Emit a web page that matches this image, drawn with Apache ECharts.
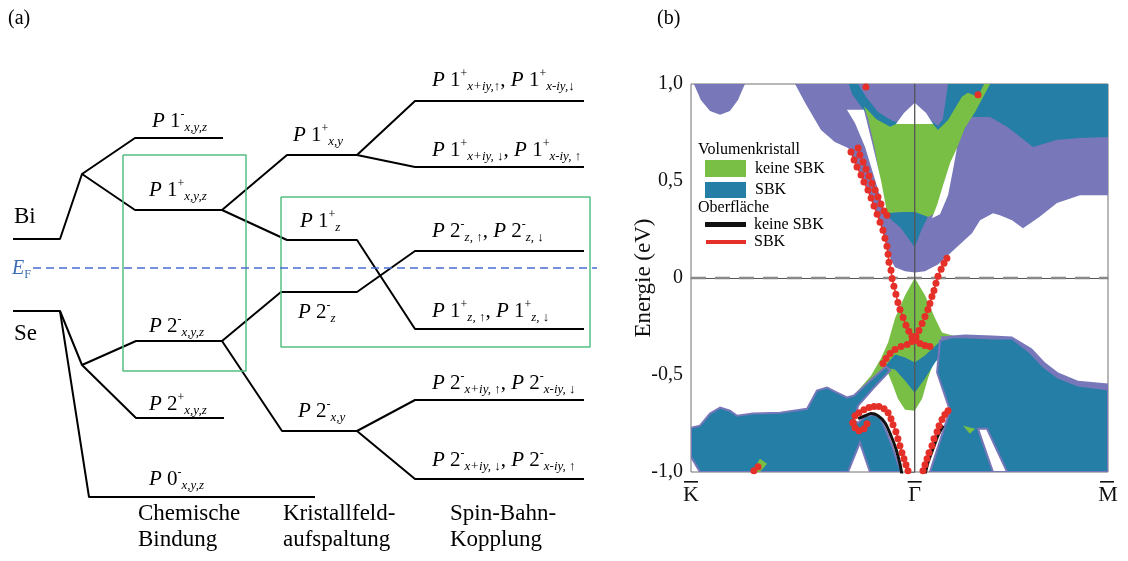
<!DOCTYPE html>
<html>
<head>
<meta charset="utf-8">
<script src="https://cdn.jsdelivr.net/npm/echarts@6.0.0/dist/echarts.min.js"></script>
<style>
  html, body { margin: 0; padding: 0; background: #fff; }
  #chart { width: 1128px; height: 561px; }
</style>
</head>
<body>
<div id="chart"></div>
<script>
// ---- (a) Energieniveau-Schema: Stufe (x) gegen Energie relativ zu E_F (willk. Einheiten) ----
const biUpper = [[0.13, 0.29], [0.60, 0.29], [0.82, 0.94], [1.35, 1.30], [2.23, 1.30]];
const biLower = [[0.82, 0.94], [1.35, 0.58], [2.22, 0.58]];
const p1xyzToXy = [[2.22, 0.58], [2.87, 1.13], [3.57, 1.13]];
const p1xyUp = [[3.57, 1.13], [4.15, 1.67], [5.84, 1.67]];
const p1xyDown = [[3.57, 1.13], [4.15, 1.01], [5.84, 1.01]];
const p1xyzToZ = [[2.22, 0.58], [2.87, 0.28], [3.57, 0.28], [4.15, -0.61], [5.84, -0.61]];
const seUpper = [[0.13, -0.43], [0.60, -0.43], [0.82, -0.97], [1.36, -0.73], [2.22, -0.73]];
const seLower = [[0.82, -0.97], [1.36, -1.50], [2.24, -1.50]];
const seCore = [[0.60, -0.43], [0.89, -2.29], [3.15, -2.29]];
const p2xyzToZ = [[2.22, -0.73], [2.81, -0.24], [3.57, -0.24], [4.15, 0.17], [5.84, 0.17]];
const p2xyzToXy = [[2.22, -0.73], [2.82, -1.63], [3.57, -1.63]];
const p2xyUp = [[3.57, -1.63], [4.15, -1.32], [5.84, -1.32]];
const p2xyDown = [[3.57, -1.63], [4.15, -2.11], [5.84, -2.11]];
const boxBond = [[1.23, 1.13], [2.46, 1.13], [2.46, -1.03], [1.23, -1.03], [1.23, 1.13]];
const boxSoc = [[2.81, 0.71], [5.90, 0.71], [5.90, -0.79], [2.81, -0.79], [2.81, 0.71]];
const fermiLine = [[0.33, 0], [5.97, 0]];

// ---- (b) Bandstruktur: k (K = -1, Gamma = 0, M = 0.864), Energie in eV ----
const kTicks = [-1, 0, 0.864];
const kLabels = ['K', '\u0393', 'M'];

const purpleBlob = [[-0.987, 1.0], [-0.956, 0.918], [-0.915, 0.861], [-0.870, 0.841], [-0.826, 0.861], [-0.790, 0.918], [-0.759, 1.0]];
const purpleUpper = [[-0.535, 1.0], [-0.490, 0.903], [-0.419, 0.763], [-0.357, 0.701], [-0.298, 0.670], [-0.285, 0.650], [-0.253, 0.567], [-0.222, 0.489], [-0.195, 0.412], [-0.164, 0.314], [-0.133, 0.210], [-0.119, 0.143], [-0.106, 0.091], [-0.088, 0.055], [-0.043, 0.035], [0, 0.028], [0.046, 0.035], [0.082, 0.057], [0.104, 0.070], [0.189, 0.160], [0.256, 0.231], [0.292, 0.298], [0.350, 0.334], [0.381, 0.324], [0.435, 0.298], [0.484, 0.257], [0.557, 0.314], [0.636, 0.386], [0.739, 0.427], [0.864, 0.427], [0.864, 1.0]];
const blueStrip = [[-0.294, 1.0], [-0.253, 1.0], [-0.218, 0.934], [-0.164, 0.856], [-0.101, 0.810], [-0.043, 0.794], [-0.043, 0.758], [-0.110, 0.763], [-0.182, 0.810], [-0.236, 0.877], [-0.280, 0.949]];
const blueNotch = [[0.059, 0.825], [0.104, 0.784], [0.149, 0.856], [0.158, 0.825], [0.113, 0.743], [0.068, 0.784]];
const blueTopRight = [[0.149, 1.0], [0.864, 1.0], [0.864, 0.727], [0.739, 0.722], [0.636, 0.712], [0.529, 0.675], [0.413, 0.779], [0.337, 0.830], [0.247, 0.830], [0.180, 0.660], [0.158, 0.660], [0.122, 0.787]];
const greenUpper = [[-0.227, 0.887], [-0.173, 0.820], [-0.110, 0.779], [-0.084, 0.794], [0.082, 0.794], [0.104, 0.763], [0.149, 0.815], [0.211, 0.934], [0.238, 0.955], [0.283, 0.934], [0.310, 1.0], [0.337, 1.0], [0.270, 0.856], [0.225, 0.774], [0.180, 0.644], [0.135, 0.505], [0.095, 0.334], [0.059, 0.314], [0, 0.340], [-0.043, 0.340], [-0.133, 0.334], [-0.151, 0.479], [-0.177, 0.660], [-0.209, 0.825]];
const bluePocketUp = [[-0.133, 0.334], [-0.043, 0.340], [0, 0.340], [0.059, 0.314], [0.033, 0.257], [0, 0.159], [-0.061, 0.257], [-0.097, 0.293]];
const whiteHump = [[-0.084, 0.794], [-0.048, 0.851], [0, 0.903], [0.051, 0.851], [0.082, 0.794]];
const whiteLeft = [[-0.303, 0.867], [-0.227, 0.867], [-0.186, 0.675], [-0.151, 0.505], [-0.128, 0.365], [-0.133, 0.334], [-0.177, 0.505], [-0.222, 0.675], [-0.267, 0.799]];
const whiteRight = [[0.189, 0.670], [0.171, 0.557], [0.149, 0.427], [0.113, 0.329], [0.077, 0.308], [0.100, 0.376], [0.127, 0.479], [0.158, 0.593]];

const greenLower = [[0, 0], [0.046, -0.089], [0.091, -0.208], [0.122, -0.281], [0.167, -0.296], [0.256, -0.306], [0.158, -0.337], [0.091, -0.415], [0.059, -0.518], [0.033, -0.622], [0, -0.684], [-0.043, -0.679], [-0.075, -0.622], [-0.097, -0.554], [-0.124, -0.477], [-0.200, -0.539], [-0.262, -0.596], [-0.285, -0.616], [-0.253, -0.580], [-0.195, -0.503], [-0.151, -0.415], [-0.119, -0.332], [-0.088, -0.208], [-0.043, -0.089]];
const bluePocketLow = [[-0.137, -0.461], [-0.088, -0.394], [-0.043, -0.410], [0, -0.436], [0.046, -0.399], [0.113, -0.327], [0.203, -0.306], [0.135, -0.374], [0.091, -0.436], [0.046, -0.518], [0, -0.591], [-0.043, -0.529], [-0.088, -0.472]];
const purpleRightEdge = [[0.113, -0.301], [0.225, -0.291], [0.346, -0.296], [0.435, -0.301], [0.524, -0.363], [0.583, -0.436], [0.641, -0.487], [0.730, -0.529], [0.864, -0.544], [0.864, -1.0], [0.5, -1.0], [0.3, -0.6]];
const blueRight = [[0.113, -0.322], [0.167, -0.306], [0.225, -0.306], [0.346, -0.312], [0.435, -0.312], [0.516, -0.384], [0.574, -0.456], [0.641, -0.513], [0.730, -0.554], [0.864, -0.575], [0.864, -1.0], [0.068, -1.0], [0.135, -0.761], [0.158, -0.684], [0.100, -0.487]];
const greenBit = [[0.216, -0.761], [0.270, -0.777], [0.247, -0.803]];
const whiteStripe = [[0.283, -0.777], [0.323, -0.777], [0.413, -1.0], [0.350, -1.0]];
const blueLeft = [[-1.0, -0.772], [-0.960, -0.761], [-0.915, -0.699], [-0.870, -0.668], [-0.826, -0.684], [-0.794, -0.710], [-0.723, -0.699], [-0.602, -0.694], [-0.481, -0.674], [-0.437, -0.580], [-0.392, -0.565], [-0.347, -0.591], [-0.303, -0.616], [-0.271, -0.606], [-0.200, -0.529], [-0.128, -0.456], [-0.110, -0.477], [-0.186, -0.570], [-0.253, -0.658], [-0.271, -0.735], [-0.253, -0.746], [-0.222, -0.715], [-0.186, -0.704], [-0.155, -0.720], [-0.128, -0.787], [-0.101, -0.865], [-0.079, -0.942], [-0.061, -1.0], [-0.200, -1.0], [-0.245, -0.849], [-0.298, -1.0], [-0.960, -1.0], [-1.0, -0.921]];
const greenBitK = [[-0.727, -1.0], [-0.692, -0.932], [-0.660, -0.958], [-0.692, -1.0]];

// Oberflaechenzustaende
const redA = [[-0.285, 0.650], [-0.271, 0.608], [-0.258, 0.572], [-0.240, 0.531], [-0.227, 0.495], [-0.209, 0.453], [-0.195, 0.412], [-0.182, 0.371], [-0.168, 0.329], [-0.155, 0.288], [-0.142, 0.246], [-0.133, 0.205], [-0.124, 0.164], [-0.119, 0.122], [-0.115, 0.081], [-0.106, 0.040], [-0.101, -0.002], [-0.093, -0.043], [-0.084, -0.084], [-0.075, -0.126], [-0.066, -0.162], [-0.052, -0.203], [-0.039, -0.244], [-0.026, -0.275], [-0.012, -0.301], [0.006, -0.322], [0.024, -0.337], [0.046, -0.348], [0.068, -0.353]];
const redB = [[0.144, 0.102], [0.131, 0.076], [0.118, 0.045], [0.104, 0.009], [0.095, -0.027], [0.086, -0.064], [0.077, -0.095], [0.068, -0.131], [0.059, -0.162], [0.046, -0.198], [0.033, -0.234], [0.019, -0.270], [0.006, -0.301], [-0.012, -0.327], [-0.034, -0.343], [-0.061, -0.353], [-0.088, -0.368], [-0.110, -0.389], [-0.128, -0.415], [-0.142, -0.441]];
const redC = [[-0.253, 0.670], [-0.245, 0.634], [-0.231, 0.598], [-0.218, 0.562], [-0.204, 0.526], [-0.191, 0.489], [-0.177, 0.453], [-0.164, 0.417], [-0.151, 0.381], [-0.137, 0.345], [-0.124, 0.324]];
const redD = [[-0.276, -0.746], [-0.267, -0.710], [-0.249, -0.694], [-0.227, -0.679], [-0.204, -0.668], [-0.182, -0.663], [-0.160, -0.663], [-0.137, -0.674], [-0.119, -0.694], [-0.106, -0.725], [-0.097, -0.756], [-0.084, -0.792], [-0.075, -0.828], [-0.066, -0.865], [-0.057, -0.901], [-0.048, -0.932], [-0.039, -0.963], [-0.030, -0.994]];
const redLoop = [[-0.276, -0.746], [-0.267, -0.772], [-0.249, -0.787], [-0.227, -0.777], [-0.213, -0.751]];
const redE = [[0.149, -0.684], [0.135, -0.704], [0.122, -0.730], [0.109, -0.761], [0.100, -0.792], [0.086, -0.828], [0.077, -0.865], [0.064, -0.901], [0.055, -0.932], [0.046, -0.963], [0.037, -0.994]];
const redK = [[-0.719, -0.994], [-0.700, -0.973]];
const redDots = [[-0.218, 0.985], [0.283, 0.944]];
const blackL = [[-0.253, -0.725], [-0.222, -0.710], [-0.195, -0.699], [-0.164, -0.710], [-0.133, -0.746], [-0.106, -0.813], [-0.084, -0.880], [-0.066, -0.958], [-0.057, -1.015]];
const blackR = [[0.127, -0.761], [0.104, -0.813], [0.082, -0.880], [0.059, -0.952], [0.046, -1.015]];

const SERIF = '"Liberation Serif", "DejaVu Serif", serif';
const GREEN = '#79bf45';
const BLUE = '#247ea6';
const PURPLE = '#7777b9';
const RED = '#e5302a';
const WHITE = '#ffffff';

const bandLayers = [
    { pts: purpleBlob, fill: PURPLE },
    { pts: purpleUpper, fill: PURPLE },
    { pts: blueStrip, fill: BLUE },
    { pts: blueNotch, fill: BLUE },
    { pts: blueTopRight, fill: BLUE },
    { pts: greenUpper, fill: GREEN },
    { pts: bluePocketUp, fill: BLUE },
    { pts: whiteHump, fill: WHITE },
    { pts: whiteLeft, fill: WHITE },
    { pts: whiteRight, fill: WHITE },
    { pts: greenLower, fill: GREEN },
    { pts: bluePocketLow, fill: BLUE },
    { pts: purpleRightEdge, fill: PURPLE },
    { pts: blueRight, fill: BLUE, stroke: PURPLE },
    { pts: greenBit, fill: GREEN },
    { pts: whiteStripe, fill: WHITE, stroke: PURPLE },
    { pts: blueLeft, fill: BLUE, stroke: PURPLE },
    { pts: greenBitK, fill: GREEN }
];

const chart = echarts.init(document.getElementById('chart'));

const RICH = {
    i: { fontSize: 21, fontStyle: 'italic', fontFamily: SERIF, fill: '#000', color: '#000' },
    n: { fontSize: 21, fontFamily: SERIF, fill: '#000', color: '#000' },
    p: { fontSize: 12, fontFamily: SERIF, fill: '#000', color: '#000', padding: [0, 0, 12, 0] },
    s: { fontSize: 13, fontStyle: 'italic', fontFamily: SERIF, fill: '#000', color: '#000', padding: [14, 0, 0, 0] },
    ei: { fontSize: 20, fontStyle: 'italic', fontFamily: SERIF, fill: '#3a6bb5', color: '#3a6bb5' },
    ef: { fontSize: 12, fontFamily: SERIF, fill: '#3a6bb5', color: '#3a6bb5', padding: [12, 0, 0, 0] }
};

function lv(sign, n, sub) {
    return '{i|P}{n| ' + n + '}{p|' + sign + '}{s|' + sub + '}';
}
function pair(a, b) {
    return a + '{n|, }' + b;
}
function txt(x, y, text, size, extra) {
    return {
        type: 'text', x: x, y: y, z: 10,
        style: Object.assign({
            text: text,
            font: (size || 21) + 'px ' + SERIF,
            fill: '#000',
            verticalAlign: 'middle', textVerticalAlign: 'middle',
            rich: RICH
        }, extra || {})
    };
}
// Querstrich ueber den Symmetriepunkten
function bar(cx) {
    return { type: 'rect', z: 10, shape: { x: cx - 7, y: 481, width: 14, height: 1.6 }, style: { fill: '#111' } };
}

const levelLabels = [
    [152, 121, lv('-', '1', 'x,y,z')],
    [149, 190, lv('+', '1', 'x,y,z')],
    [293, 135, lv('+', '1', 'x,y')],
    [432, 80, pair(lv('+', '1', 'x+iy,\u2191'), lv('+', '1', 'x-iy,\u2193'))],
    [432, 150, pair(lv('+', '1', 'x+iy, \u2193'), lv('+', '1', 'x-iy, \u2191'))],
    [300, 221, lv('+', '1', 'z')],
    [432, 231, pair(lv('-', '2', 'z, \u2191'), lv('-', '2', 'z, \u2193'))],
    [298, 312, lv('-', '2', 'z')],
    [432, 311, pair(lv('+', '1', 'z, \u2191'), lv('+', '1', 'z, \u2193'))],
    [149, 326, lv('-', '2', 'x,y,z')],
    [149, 404, lv('+', '2', 'x,y,z')],
    [149, 479, lv('-', '0', 'x,y,z')],
    [298, 411, lv('-', '2', 'x,y')],
    [432, 383, pair(lv('-', '2', 'x+iy, \u2191'), lv('-', '2', 'x-iy, \u2193'))],
    [432, 460, pair(lv('-', '2', 'x+iy, \u2193'), lv('-', '2', 'x-iy, \u2191'))]
];

const graphics = [
    txt(8, 19, '(a)', 20),
    txt(657, 19, '(b)', 20),
    txt(14, 217, 'Bi', 23),
    txt(14, 334, 'Se', 23),
    txt(12, 269, '{ei|E}{ef|F}', 20),
    txt(138, 514, 'Chemische', 23),
    txt(138, 540, 'Bindung', 23),
    txt(283, 514, 'Kristallfeld-', 23),
    txt(283, 540, 'aufspaltung', 23),
    txt(450, 514, 'Spin-Bahn-', 23),
    txt(450, 540, 'Kopplung', 23),
    // Legende im Bandstruktur-Bild
    txt(698, 150, 'Volumenkristall', 16),
    { type: 'rect', z: 10, shape: { x: 705, y: 160, width: 41, height: 17 }, style: { fill: GREEN } },
    txt(755, 169, 'keine SBK', 16),
    { type: 'rect', z: 10, shape: { x: 705, y: 182, width: 41, height: 16 }, style: { fill: BLUE } },
    txt(755, 190, 'SBK', 16),
    txt(698, 208, 'Oberfl\u00e4che', 16),
    { type: 'rect', z: 10, shape: { x: 705, y: 222, width: 41, height: 5 }, style: { fill: '#111' } },
    txt(754, 225, 'keine SBK', 16),
    { type: 'rect', z: 10, shape: { x: 706, y: 240, width: 40, height: 4 }, style: { fill: RED } },
    txt(754, 242, 'SBK', 16),
    bar(691), bar(914.7), bar(1107)
].concat(levelLabels.map(l => txt(l[0], l[1], l[2], 21)));

function levelSeries(data) {
    return {
        type: 'line', xAxisIndex: 0, yAxisIndex: 0, data: data,
        symbol: 'none', silent: true,
        lineStyle: { color: '#000', width: 2 }
    };
}
function redSeries(data, size) {
    return {
        type: 'line', xAxisIndex: 1, yAxisIndex: 1, data: data, z: 6,
        symbol: 'circle', symbolSize: size || 7, showAllSymbol: true, silent: true,
        itemStyle: { color: RED },
        lineStyle: { color: RED, width: 1.5 }
    };
}
function blackSeries(data) {
    return {
        type: 'line', xAxisIndex: 1, yAxisIndex: 1, data: data, z: 5,
        symbol: 'none', smooth: 0.3, silent: true,
        lineStyle: { color: '#111', width: 3 }
    };
}

const option = {
    animation: false,
    backgroundColor: '#fff',
    grid: [
        { left: 0, top: 68, width: 600, height: 440 },
        { left: 691, top: 84, width: 417, height: 388, show: true, borderColor: '#707070', borderWidth: 1, backgroundColor: 'transparent' }
    ],
    xAxis: [
        { gridIndex: 0, type: 'value', min: 0, max: 6, show: false },
        {
            gridIndex: 1, type: 'value', min: kTicks[0], max: kTicks[2],
            axisLine: { show: true, lineStyle: { color: '#555', width: 1 } },
            axisTick: { show: false },
            splitLine: { show: false },
            axisLabel: {
                customValues: kTicks,
                formatter: v => kLabels[kTicks.indexOf(v)],
                fontFamily: SERIF, fontSize: 22, color: '#111', margin: 12
            }
        }
    ],
    yAxis: [
        { gridIndex: 0, type: 'value', min: -2.4, max: 2.0, show: false },
        {
            gridIndex: 1, type: 'value', min: -1, max: 1, interval: 0.5,
            name: 'Energie (eV)', nameLocation: 'middle', nameGap: 36, nameRotate: 90,
            nameMoveOverlap: false,
            nameTextStyle: { fontFamily: SERIF, fontSize: 23, color: '#111' },
            axisLine: { show: true, lineStyle: { color: '#707070' } },
            axisTick: { show: true, length: 4, lineStyle: { color: '#707070' } },
            splitLine: { show: false },
            axisLabel: {
                formatter: v => (v === 0 ? '0' : v.toFixed(1).replace('.', ',')),
                fontFamily: SERIF, fontSize: 20, color: '#111', margin: 8
            }
        }
    ],
    graphic: graphics,
    series: [
        {
            type: 'custom', xAxisIndex: 1, yAxisIndex: 1, z: 1, clip: true, silent: true,
            data: bandLayers.map(() => [0, 0]),
            renderItem: (params, api) => {
                const layer = bandLayers[params.dataIndex];
                return {
                    type: 'polygon',
                    shape: { points: layer.pts.map(p => api.coord(p)) },
                    style: {
                        fill: layer.fill,
                        stroke: layer.stroke || null,
                        lineWidth: layer.stroke ? 2 : 0
                    }
                };
            }
        },
        {
            type: 'line', xAxisIndex: 1, yAxisIndex: 1, z: 3, symbol: 'none', silent: true,
            data: [[kTicks[0], 0], [kTicks[2], 0]],
            lineStyle: { color: '#888', width: 2.5, type: [15, 9] }
        },
        {
            type: 'line', xAxisIndex: 1, yAxisIndex: 1, z: 3, symbol: 'none', silent: true,
            data: [[0, -1], [0, 1]],
            lineStyle: { color: '#555', width: 1.3 }
        },
        blackSeries(blackL),
        blackSeries(blackR),
        redSeries(redA),
        redSeries(redB),
        redSeries(redC),
        redSeries(redD),
        redSeries(redLoop),
        redSeries(redE),
        redSeries(redK),
        Object.assign(redSeries(redDots, 7), { lineStyle: { width: 0, opacity: 0 } }),
        levelSeries(biUpper),
        levelSeries(biLower),
        levelSeries(p1xyzToXy),
        levelSeries(p1xyUp),
        levelSeries(p1xyDown),
        levelSeries(p1xyzToZ),
        levelSeries(seUpper),
        levelSeries(seLower),
        levelSeries(seCore),
        levelSeries(p2xyzToZ),
        levelSeries(p2xyzToXy),
        levelSeries(p2xyUp),
        levelSeries(p2xyDown),
        {
            type: 'line', xAxisIndex: 0, yAxisIndex: 0, data: boxBond, symbol: 'none', silent: true,
            lineStyle: { color: '#55bf84', width: 1.5 }
        },
        {
            type: 'line', xAxisIndex: 0, yAxisIndex: 0, data: boxSoc, symbol: 'none', silent: true,
            lineStyle: { color: '#55bf84', width: 1.5 }
        },
        {
            type: 'line', xAxisIndex: 0, yAxisIndex: 0, data: fermiLine, symbol: 'none', silent: true,
            lineStyle: { color: '#4a6cd4', width: 1.3, type: [8, 5] }
        }
    ]
};

chart.setOption(option);
</script>
</body>
</html>
